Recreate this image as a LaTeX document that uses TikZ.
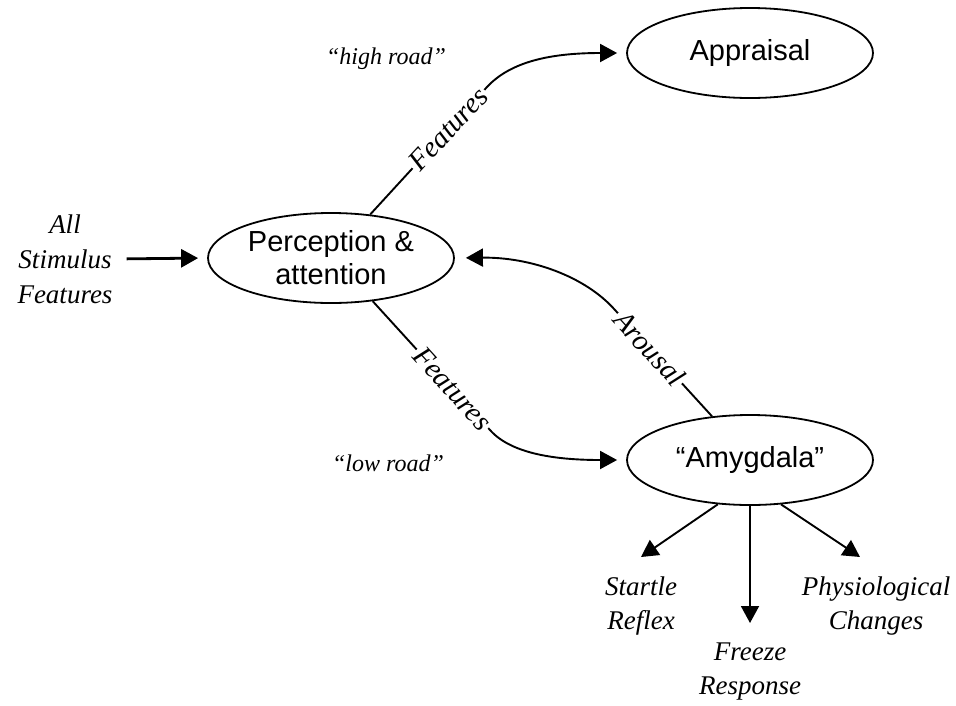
\documentclass[tikz,border=0pt]{standalone}
\usepackage{fontspec}
\setmainfont{Liberation Serif}
\newfontfamily\arialfont{Liberation Sans}
\usepackage{tikz}
\usetikzlibrary{arrows.meta,positioning,shapes.geometric}

\begin{document}
\begin{tikzpicture}[x=1pt,y=-1pt,
  area/.style={ellipse,draw,line width=1.8pt,minimum width=246pt,minimum height=90pt,inner sep=0pt,align=center,font=\arialfont\fontsize{29}{33}\selectfont},
  cue/.style={font=\itshape\fontsize{27}{35}\selectfont,align=center,inner sep=0pt},
  outcome/.style={font=\itshape\fontsize{27}{34}\selectfont,align=center,inner xsep=0pt,inner ysep=20pt,anchor=north},
  road/.style={font=\itshape\fontsize{24}{28}\selectfont,anchor=base},
  lbl/.style={sloped,fill=white,inner sep=2pt,font=\itshape\fontsize{29}{32}\selectfont},
  arr/.style={-{Triangle[length=17pt,width=18pt]},line width=1.9pt,shorten >=9pt}]
\useasboundingbox (0,0) rectangle (956,705);
\node[area] (perc) at (331,258) {Perception \&\\attention};
\node[area] (appr) at (750,53) {Appraisal};
\node[area] (amyg) at (750,460) {“Amygdala”};
\node[cue] (stim) at (65,259) {All\\Stimulus\\Features};
\node[road] (high) at (386,64) {“high road”};
\node[road] (low) at (388,471) {“low road”};
\node[outcome] (startle) at (641,557) {Startle\\Reflex};
\node[outcome] (freeze) at (750,623) {Freeze\\Response};
\node[outcome] (phys) at (876,557) {Physiological\\Changes};
\draw[arr,line width=2.8pt,shorten <=14pt] (stim.east) -- (perc.west);
\draw[arr] (perc.48) -- node[lbl,pos=0.67] {Features} (487,87) .. controls (512,60) and (555,53) .. (appr.west);
\draw[arr] (perc.-46) -- node[lbl,pos=0.68] {Features} (490,430) .. controls (512,455) and (560,460) .. (amyg.west);
\draw[arr,shorten >=11pt] (amyg.131) -- node[lbl,pos=0.64] {Arousal} (615,310) .. controls (585,276) and (530,257) .. (perc.east);
\draw[arr,shorten >=0pt] (amyg.-126) -- (startle.north);
\draw[arr,shorten >=0pt] (amyg.south) -- (freeze.north);
\draw[arr,shorten >=0pt] (amyg.-55) -- ([xshift=-16pt]phys.north);
\end{tikzpicture}
\end{document}
